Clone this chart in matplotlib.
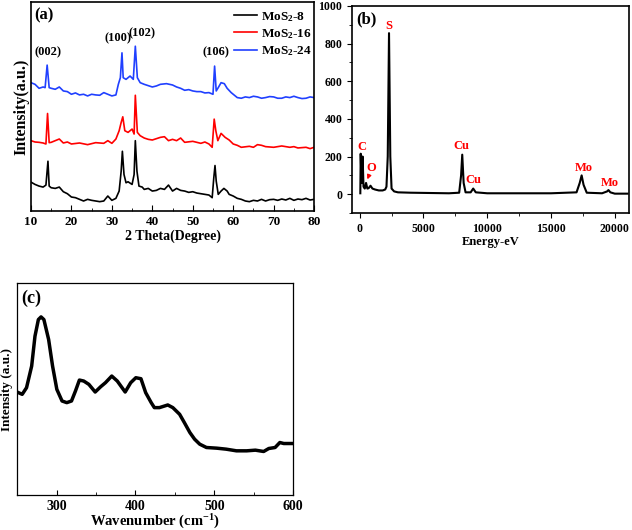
import matplotlib
matplotlib.use('Agg')
import matplotlib.pyplot as plt
from matplotlib.ticker import MultipleLocator

# ---- (a) XRD patterns, intensity in arbitrary units ----
xrd_8_x = [10, 11, 12, 13, 13.7, 14.2, 14.5, 15, 16, 17, 18, 19, 20, 21, 22, 23, 24, 25, 26, 27, 28, 29, 30, 31,
           31.8, 32.3, 32.6, 33.0, 33.5, 34, 35, 35.5, 35.8, 36.2, 36.7, 37.5, 38, 39, 40, 41, 42, 43, 44, 45, 46,
           47, 48, 49, 50, 51, 52, 53, 54, 54.8, 55.2, 55.5, 55.8, 56.3, 57, 57.7, 58.5, 59, 60, 61, 62, 63, 64, 65,
           66, 67, 68, 69, 70, 71, 72, 73, 74, 75, 76, 77, 78, 79, 80]
xrd_8_y = [87, 80, 75, 72, 78, 150, 75, 70, 68, 72, 58, 52, 42, 40, 35, 30, 35, 32, 30, 28, 30, 45, 32, 38,
           60, 120, 180, 110, 85, 88, 80, 110, 212, 120, 75, 72, 65, 68, 60, 62, 68, 65, 78, 60, 68,
           62, 60, 56, 58, 54, 52, 50, 48, 40, 100, 137, 90, 50, 60, 68, 60, 50, 45, 38, 35, 30, 28, 32,
           30, 35, 30, 34, 35, 32, 36, 33, 38, 32, 36, 34, 38, 33, 35]

xrd_16_x = [10, 11, 12, 13, 13.7, 14.1, 14.5, 15, 16, 17, 18, 19, 20, 22, 24, 25, 26, 28, 29, 30, 31, 31.8, 32.3,
            32.7, 33.2, 34, 35, 35.5, 35.8, 36.3, 37, 38, 39, 40, 41, 42, 43, 44, 45, 46, 47, 48, 50, 52, 53, 54,
            54.8, 55.3, 55.7, 56.2, 57, 58, 59, 60, 61, 62, 64, 65, 66, 67, 68, 70, 72, 74, 75, 76, 78, 79, 80]
xrd_16_y = [212, 208, 207, 205, 202, 294, 206, 207, 212, 217, 205, 208, 202, 205, 200, 203, 206, 204, 212, 204,
            217, 242, 267, 284, 242, 237, 247, 232, 349, 237, 227, 220, 216, 214, 218, 222, 224, 212, 216, 212,
            220, 207, 210, 204, 208, 202, 192, 277, 242, 212, 234, 222, 214, 202, 198, 192, 195, 192, 200, 198,
            194, 192, 196, 192, 194, 190, 192, 188, 192]

xrd_24_x = [10, 11, 12, 13, 13.5, 14.0, 14.5, 15, 16, 17, 18, 19, 20, 21, 22, 23, 24, 25, 26, 27, 28, 29, 30, 31,
            31.6, 32.1, 32.5, 32.8, 33.5, 34.5, 35.3, 35.8, 36.3, 37, 38, 39, 40, 41, 42, 43.5, 45, 46, 47, 48, 49,
            50, 51, 52, 53, 54, 55, 55.4, 55.8, 56.3, 57, 57.8, 58.5, 59.5, 61, 62, 63, 64, 65, 66, 67, 68, 69, 70,
            71, 72, 73, 74, 75, 76, 77, 78, 79, 80]
xrd_24_y = [387, 382, 370, 374, 372, 440, 372, 370, 367, 374, 362, 360, 352, 356, 350, 352, 347, 352, 350, 349,
            357, 352, 347, 350, 382, 402, 477, 402, 397, 407, 397, 497, 402, 387, 382, 378, 374, 377, 382, 384,
            380, 374, 370, 364, 366, 362, 360, 360, 356, 357, 352, 437, 362, 372, 387, 384, 370, 357, 342, 340,
            344, 342, 346, 344, 340, 342, 345, 344, 340, 340, 344, 342, 346, 342, 339, 340, 344, 342]

xrd_labels = ['MoS$_2$-8', 'MoS$_2$-16', 'MoS$_2$-24']
xrd_colors = ['black', 'red', '#2040ff']
peak_names = ['(002)', '(100)', '(102)', '(106)']
peak_pos = [14.3, 31.4, 37.4, 55.8]
peak_height = [462, 504, 517, 460]

# ---- (b) EDS spectrum ----
eds_x = [50, 80, 120, 160, 230, 300, 400, 500, 600, 700, 850, 1000, 1200, 1500, 1800, 2000, 2100, 2200, 2300,
         2400, 2500, 2700, 3000, 4000, 5000, 6000, 7000, 7800, 7950, 8040, 8150, 8300, 8700, 8900, 9100, 10000,
         12000, 15000, 17000, 17250, 17400, 17550, 17800, 19000, 19400, 19500, 19650, 20000, 21000]
eds_y = [5, 215, 120, 60, 200, 40, 30, 60, 30, 32, 45, 30, 25, 20, 20, 25, 40, 200, 855,
         200, 30, 15, 10, 8, 7, 6, 5, 8, 100, 210, 60, 10, 10, 30, 10, 5,
         5, 5, 10, 60, 100, 50, 8, 5, 15, 22, 10, 3, 3]
eds_elems = ['C', 'O', 'S', 'Cu', 'Cu', 'Mo', 'Mo']
eds_lab_x = [160, 940, 2270, 8000, 8940, 17570, 19600]
eds_lab_y = [250, 138, 893, 255, 75, 138, 58]

# ---- (c) Raman spectrum ----
raman_x = [250, 256.5, 262, 268.5, 272.7, 277, 280.4, 284, 290, 295, 300.4, 307, 313, 319, 324, 329, 334.5, 341,
           349, 356, 362, 370, 377, 387, 394, 400.5, 407, 413, 420, 424, 430.4, 441, 447.4, 456, 462, 469, 475,
           481.5, 490, 503, 515, 528, 541, 552, 562.5, 569, 577, 583, 588, 600]
raman_y = [310, 303, 323, 388, 478, 528, 536, 528, 468, 388, 318, 283, 278, 283, 313, 346, 343, 333,
           310, 326, 338, 358, 343, 310, 338, 353, 350, 308, 278, 263, 263, 271, 263, 243, 218, 188, 168,
           153, 143, 141, 138, 133, 133, 135, 131, 140, 143, 158, 155, 155]

plt.rcParams['font.family'] = 'Liberation Serif'
plt.rcParams['font.weight'] = 'bold'
plt.rcParams['axes.labelweight'] = 'bold'
plt.rcParams['mathtext.fontset'] = 'custom'
plt.rcParams['mathtext.rm'] = 'Liberation Serif:bold'
plt.rcParams['mathtext.it'] = 'Liberation Serif:bold:italic'
plt.rcParams['mathtext.bf'] = 'Liberation Serif:bold'
plt.rcParams['mathtext.default'] = 'rm'
plt.rcParams['axes.linewidth'] = 1.2

fig = plt.figure(figsize=(6.32, 5.30), dpi=100)

# panel (a)
ax1 = fig.add_axes([0.049, 0.602, 0.448, 0.394])
for xs, ys, lab, col in zip([xrd_8_x, xrd_16_x, xrd_24_x], [xrd_8_y, xrd_16_y, xrd_24_y], xrd_labels, xrd_colors):
    ax1.plot(xs, ys, color=col, lw=1.2, label=lab)
for name, px, py in zip(peak_names, peak_pos, peak_height):
    ax1.text(px, py, name, ha='center', va='bottom', fontsize=9, fontweight='bold')
ax1.set_xlim(10, 80)
ax1.set_ylim(0, 630)
ax1.set_yticks([])
ax1.xaxis.set_major_locator(MultipleLocator(10))
ax1.xaxis.set_minor_locator(MultipleLocator(5))
ax1.tick_params(axis='x', which='both', direction='in', labelsize=9.5)
ax1.tick_params(axis='x', which='major', length=4)
ax1.tick_params(axis='x', which='minor', length=2.5)
ax1.set_xlabel('2 Theta(Degree)', fontsize=10, labelpad=1)
ax1.set_ylabel('Intensity(a.u.)', fontsize=11.5, labelpad=1)
ax1.text(0.012, 0.975, '(a)', transform=ax1.transAxes, fontsize=12, fontweight='bold', va='top')
ax1.legend(loc='upper right', bbox_to_anchor=(1.0, 0.975), frameon=False, handlelength=1.7,
           handletextpad=0.3, borderaxespad=0.0, borderpad=0.2, labelspacing=0.25,
           prop={'weight': 'bold', 'size': 9.5})

# panel (b)
ax2 = fig.add_axes([0.557, 0.598, 0.438, 0.391])
ax2.plot(eds_x, eds_y, color='black', lw=1.5)
for el, ex, ey in zip(eds_elems, eds_lab_x, eds_lab_y):
    ax2.text(ex, ey, el, color='red', ha='center', va='center', fontsize=9, fontweight='bold')
ax2.annotate('', xy=(520, 65), xytext=(820, 115),
             arrowprops=dict(arrowstyle='-|>', color='red', lw=1, mutation_scale=6))
ax2.set_xlim(-600, 21100)
ax2.set_ylim(-100, 1000)
ax2.xaxis.set_major_locator(MultipleLocator(5000))
ax2.xaxis.set_minor_locator(MultipleLocator(2500))
ax2.yaxis.set_major_locator(MultipleLocator(200))
ax2.yaxis.set_minor_locator(MultipleLocator(100))
ax2.tick_params(which='both', direction='out', labelsize=8.5)
ax2.tick_params(which='major', length=3.5)
ax2.tick_params(which='minor', length=2)
ax2.set_xlabel('Energy-eV', fontsize=9, labelpad=1)
ax2.text(0.015, 0.975, '(b)', transform=ax2.transAxes, fontsize=12, fontweight='bold', va='top')

# panel (c)
ax3 = fig.add_axes([0.027, 0.066, 0.437, 0.4])
ax3.plot(raman_x, raman_y, color='black', lw=2.5)
ax3.set_xlim(250, 600)
ax3.set_ylim(0, 638)
ax3.set_yticks([])
ax3.xaxis.set_major_locator(MultipleLocator(100))
ax3.xaxis.set_minor_locator(MultipleLocator(50))
ax3.tick_params(axis='x', which='both', direction='in', labelsize=10)
ax3.tick_params(axis='x', which='major', length=3.5)
ax3.tick_params(axis='x', which='minor', length=2)
for s in ax3.spines.values():
    s.set_linewidth(0.9)
ax3.set_xlabel('Wavenumber (cm$^{-1}$)', fontsize=10.5, labelpad=0)
ax3.set_ylabel('Intensity (a.u.)', fontsize=9.5, labelpad=3)
ax3.text(0.015, 0.97, '(c)', transform=ax3.transAxes, fontsize=13, fontweight='bold', va='top')

fig.savefig('out.png', dpi=100)
